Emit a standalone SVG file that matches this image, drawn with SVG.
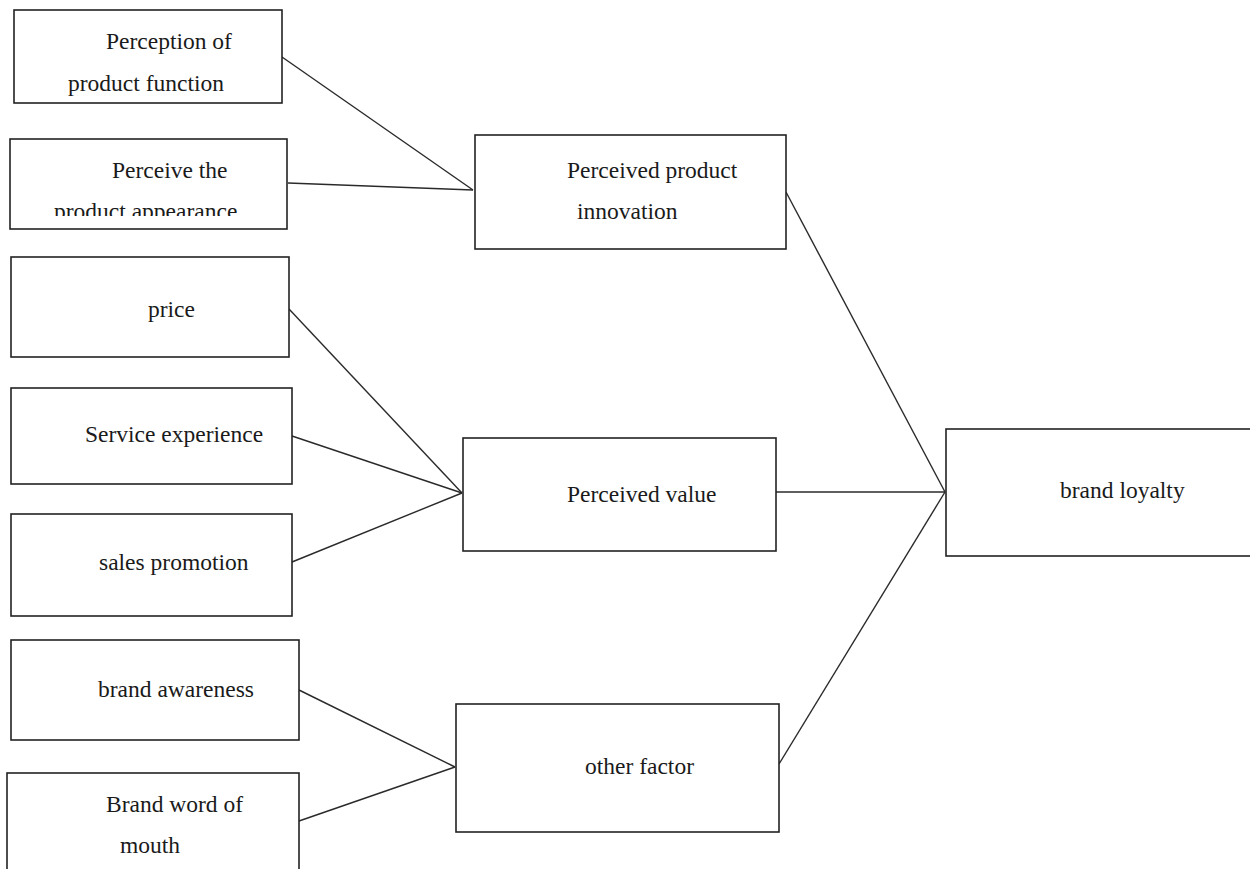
<svg xmlns="http://www.w3.org/2000/svg" width="1250" height="869" viewBox="0 0 1250 869">
<style>
.box{fill:#fff;stroke:#222;stroke-width:1.6}
.t{font-family:"Liberation Serif","Times New Roman",serif;font-size:23.5px;fill:#1a1a1a}
.c{stroke:#2a2a2a;stroke-width:1.4;fill:none}
</style>
<defs>
<clipPath id="clip2"><rect x="10" y="139" width="278" height="77"/></clipPath>
</defs>
<rect width="1250" height="869" fill="#fff"/>
<g id="connectors">
<line class="c" x1="282" y1="57" x2="473" y2="190"/>
<line class="c" x1="288" y1="183" x2="473" y2="190"/>
<line class="c" x1="289" y1="309" x2="462" y2="493"/>
<line class="c" x1="292" y1="436" x2="462" y2="493"/>
<line class="c" x1="292" y1="562" x2="462" y2="493"/>
<line class="c" x1="299" y1="690" x2="455" y2="767"/>
<line class="c" x1="299" y1="821" x2="455" y2="767"/>
<line class="c" x1="786" y1="192" x2="945" y2="492"/>
<line class="c" x1="776" y1="492" x2="945" y2="492"/>
<line class="c" x1="779" y1="764" x2="945" y2="492"/>
</g>
<g id="n-function">
<rect class="box" x="14" y="10" width="268" height="93"/>
<text class="t" x="106" y="49">Perception of</text>
<text class="t" x="68" y="91">product function</text>
</g>
<g id="n-appearance">
<rect class="box" x="10" y="139" width="277" height="90"/>
<text class="t" x="112" y="178">Perceive the</text>
<text class="t" x="54" y="219" clip-path="url(#clip2)">product appearance</text>
</g>
<g id="n-price">
<rect class="box" x="11" y="257" width="278" height="100"/>
<text class="t" x="148" y="317">price</text>
</g>
<g id="n-service">
<rect class="box" x="11" y="388" width="281" height="96"/>
<text class="t" x="85" y="442">Service experience</text>
</g>
<g id="n-sales">
<rect class="box" x="11" y="514" width="281" height="102"/>
<text class="t" x="99" y="570">sales promotion</text>
</g>
<g id="n-awareness">
<rect class="box" x="11" y="640" width="288" height="100"/>
<text class="t" x="98" y="697">brand awareness</text>
</g>
<g id="n-wom">
<rect class="box" x="7" y="773" width="292" height="110"/>
<text class="t" x="106" y="812">Brand word of</text>
<text class="t" x="120" y="853">mouth</text>
</g>
<g id="n-innovation">
<rect class="box" x="475" y="135" width="311" height="114"/>
<text class="t" x="567" y="178">Perceived product</text>
<text class="t" x="577" y="219">innovation</text>
</g>
<g id="n-value">
<rect class="box" x="463" y="438" width="313" height="113"/>
<text class="t" x="567" y="502">Perceived value</text>
</g>
<g id="n-other">
<rect class="box" x="456" y="704" width="323" height="128"/>
<text class="t" x="585" y="774">other factor</text>
</g>
<g id="n-loyalty">
<rect class="box" x="946" y="429" width="320" height="127"/>
<text class="t" x="1060" y="498">brand loyalty</text>
</g>
</svg>
